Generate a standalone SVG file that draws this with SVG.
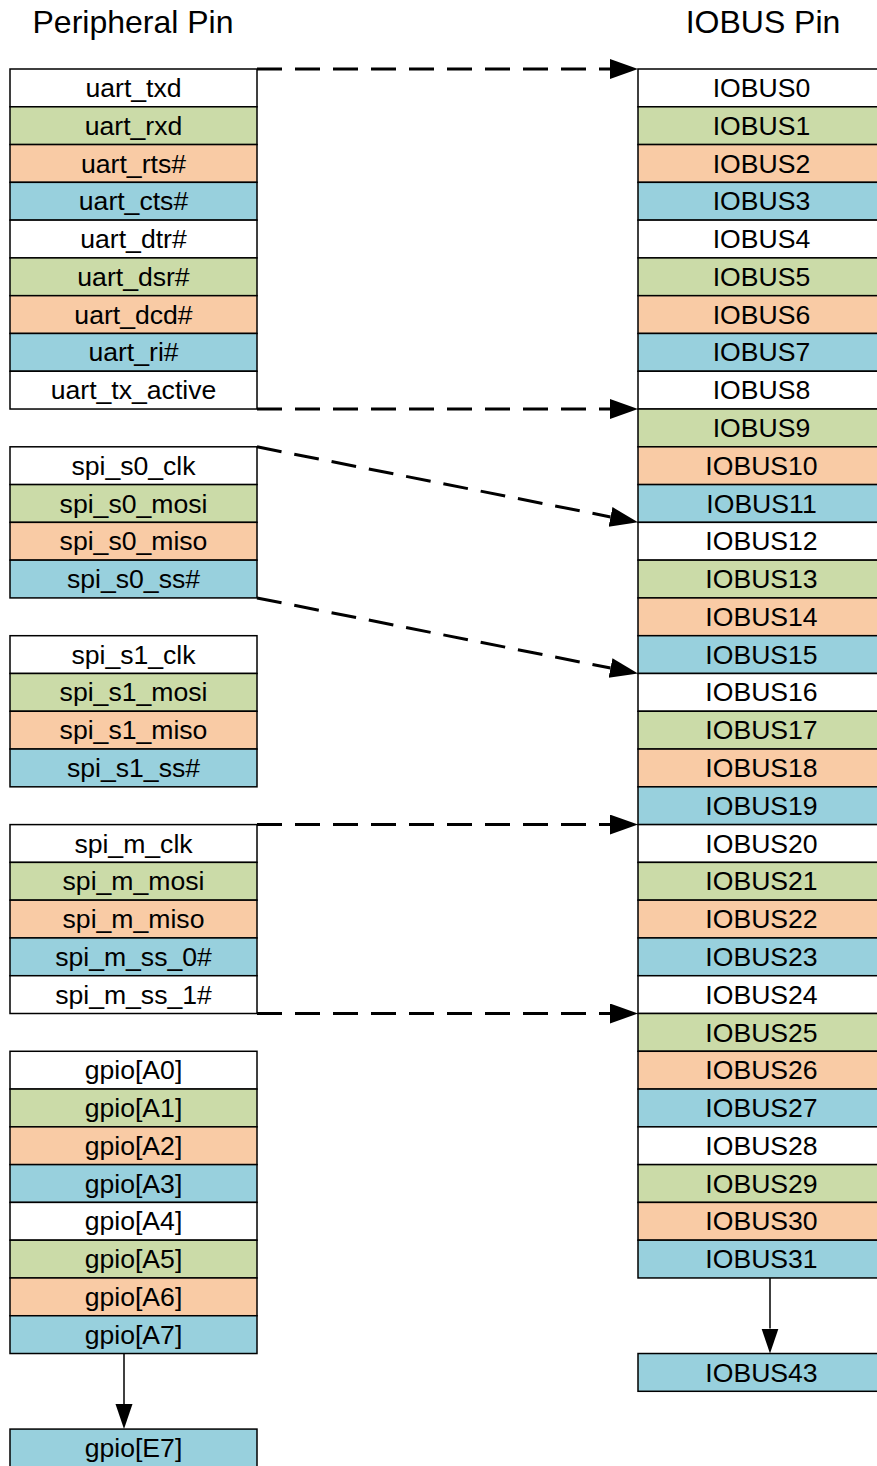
<svg xmlns="http://www.w3.org/2000/svg" width="877" height="1466" viewBox="0 0 877 1466">
<style>
.c{stroke:#000;stroke-width:1.5}
.w{fill:#ffffff}.g{fill:#cbdba8}.o{fill:#f9cba5}.b{fill:#98d0dd}
text{font-family:"Liberation Sans",Arial,sans-serif;fill:#000;text-anchor:middle}
.t{font-size:26.6px}
.h{font-size:32px}
.d{stroke:#000;stroke-width:3;stroke-dasharray:25 13;fill:none}
.s{stroke:#000;stroke-width:1.5;fill:none}
</style>
<defs>
<marker id="ah" markerUnits="userSpaceOnUse" markerWidth="30" markerHeight="22" refX="0" refY="10" orient="auto"><path d="M0,0 L28,10 L0,20 z" fill="#000"/></marker>
<marker id="as" markerUnits="userSpaceOnUse" markerWidth="27" markerHeight="19" refX="0" refY="8.5" orient="auto"><path d="M0,0 L25,8.5 L0,17 z" fill="#000"/></marker>
</defs>
<rect width="877" height="1466" fill="#fff"/>
<text class="h" x="133" y="33">Peripheral Pin</text>
<text class="h" x="763" y="33">IOBUS Pin</text>

<g id="uart">
<rect class="c w" x="10" y="69" width="247" height="37.78"/><text class="t" x="133.5" y="97">uart_txd</text>
<rect class="c g" x="10" y="106.78" width="247" height="37.78"/><text class="t" x="133.5" y="134.78">uart_rxd</text>
<rect class="c o" x="10" y="144.56" width="247" height="37.78"/><text class="t" x="133.5" y="172.56">uart_rts#</text>
<rect class="c b" x="10" y="182.34" width="247" height="37.78"/><text class="t" x="133.5" y="210.34">uart_cts#</text>
<rect class="c w" x="10" y="220.12" width="247" height="37.78"/><text class="t" x="133.5" y="248.12">uart_dtr#</text>
<rect class="c g" x="10" y="257.9" width="247" height="37.78"/><text class="t" x="133.5" y="285.9">uart_dsr#</text>
<rect class="c o" x="10" y="295.68" width="247" height="37.78"/><text class="t" x="133.5" y="323.68">uart_dcd#</text>
<rect class="c b" x="10" y="333.46" width="247" height="37.78"/><text class="t" x="133.5" y="361.46">uart_ri#</text>
<rect class="c w" x="10" y="371.24" width="247" height="37.78"/><text class="t" x="133.5" y="399.24">uart_tx_active</text>
</g>

<g id="spi_s0">
<rect class="c w" x="10" y="446.8" width="247" height="37.78"/><text class="t" x="133.5" y="474.8">spi_s0_clk</text>
<rect class="c g" x="10" y="484.58" width="247" height="37.78"/><text class="t" x="133.5" y="512.58">spi_s0_mosi</text>
<rect class="c o" x="10" y="522.36" width="247" height="37.78"/><text class="t" x="133.5" y="550.36">spi_s0_miso</text>
<rect class="c b" x="10" y="560.14" width="247" height="37.78"/><text class="t" x="133.5" y="588.14">spi_s0_ss#</text>
</g>

<g id="spi_s1">
<rect class="c w" x="10" y="635.7" width="247" height="37.78"/><text class="t" x="133.5" y="663.7">spi_s1_clk</text>
<rect class="c g" x="10" y="673.48" width="247" height="37.78"/><text class="t" x="133.5" y="701.48">spi_s1_mosi</text>
<rect class="c o" x="10" y="711.26" width="247" height="37.78"/><text class="t" x="133.5" y="739.26">spi_s1_miso</text>
<rect class="c b" x="10" y="749.04" width="247" height="37.78"/><text class="t" x="133.5" y="777.04">spi_s1_ss#</text>
</g>

<g id="spi_m">
<rect class="c w" x="10" y="824.6" width="247" height="37.78"/><text class="t" x="133.5" y="852.6">spi_m_clk</text>
<rect class="c g" x="10" y="862.38" width="247" height="37.78"/><text class="t" x="133.5" y="890.38">spi_m_mosi</text>
<rect class="c o" x="10" y="900.16" width="247" height="37.78"/><text class="t" x="133.5" y="928.16">spi_m_miso</text>
<rect class="c b" x="10" y="937.94" width="247" height="37.78"/><text class="t" x="133.5" y="965.94">spi_m_ss_0#</text>
<rect class="c w" x="10" y="975.72" width="247" height="37.78"/><text class="t" x="133.5" y="1003.72">spi_m_ss_1#</text>
</g>

<g id="gpio">
<rect class="c w" x="10" y="1051.28" width="247" height="37.78"/><text class="t" x="133.5" y="1079.28">gpio[A0]</text>
<rect class="c g" x="10" y="1089.06" width="247" height="37.78"/><text class="t" x="133.5" y="1117.06">gpio[A1]</text>
<rect class="c o" x="10" y="1126.84" width="247" height="37.78"/><text class="t" x="133.5" y="1154.84">gpio[A2]</text>
<rect class="c b" x="10" y="1164.62" width="247" height="37.78"/><text class="t" x="133.5" y="1192.62">gpio[A3]</text>
<rect class="c w" x="10" y="1202.4" width="247" height="37.78"/><text class="t" x="133.5" y="1230.4">gpio[A4]</text>
<rect class="c g" x="10" y="1240.18" width="247" height="37.78"/><text class="t" x="133.5" y="1268.18">gpio[A5]</text>
<rect class="c o" x="10" y="1277.96" width="247" height="37.78"/><text class="t" x="133.5" y="1305.96">gpio[A6]</text>
<rect class="c b" x="10" y="1315.74" width="247" height="37.78"/><text class="t" x="133.5" y="1343.74">gpio[A7]</text>
</g>

<g id="gpio_e7">
<rect class="c b" x="10" y="1429.08" width="247" height="37.78"/><text class="t" x="133.5" y="1457.08">gpio[E7]</text>
</g>

<g id="iobus">
<rect class="c w" x="638" y="69" width="247" height="37.78"/><text class="t" x="761.5" y="97">IOBUS0</text>
<rect class="c g" x="638" y="106.78" width="247" height="37.78"/><text class="t" x="761.5" y="134.78">IOBUS1</text>
<rect class="c o" x="638" y="144.56" width="247" height="37.78"/><text class="t" x="761.5" y="172.56">IOBUS2</text>
<rect class="c b" x="638" y="182.34" width="247" height="37.78"/><text class="t" x="761.5" y="210.34">IOBUS3</text>
<rect class="c w" x="638" y="220.12" width="247" height="37.78"/><text class="t" x="761.5" y="248.12">IOBUS4</text>
<rect class="c g" x="638" y="257.9" width="247" height="37.78"/><text class="t" x="761.5" y="285.9">IOBUS5</text>
<rect class="c o" x="638" y="295.68" width="247" height="37.78"/><text class="t" x="761.5" y="323.68">IOBUS6</text>
<rect class="c b" x="638" y="333.46" width="247" height="37.78"/><text class="t" x="761.5" y="361.46">IOBUS7</text>
<rect class="c w" x="638" y="371.24" width="247" height="37.78"/><text class="t" x="761.5" y="399.24">IOBUS8</text>
<rect class="c g" x="638" y="409.02" width="247" height="37.78"/><text class="t" x="761.5" y="437.02">IOBUS9</text>
<rect class="c o" x="638" y="446.8" width="247" height="37.78"/><text class="t" x="761.5" y="474.8">IOBUS10</text>
<rect class="c b" x="638" y="484.58" width="247" height="37.78"/><text class="t" x="761.5" y="512.58">IOBUS11</text>
<rect class="c w" x="638" y="522.36" width="247" height="37.78"/><text class="t" x="761.5" y="550.36">IOBUS12</text>
<rect class="c g" x="638" y="560.14" width="247" height="37.78"/><text class="t" x="761.5" y="588.14">IOBUS13</text>
<rect class="c o" x="638" y="597.92" width="247" height="37.78"/><text class="t" x="761.5" y="625.92">IOBUS14</text>
<rect class="c b" x="638" y="635.7" width="247" height="37.78"/><text class="t" x="761.5" y="663.7">IOBUS15</text>
<rect class="c w" x="638" y="673.48" width="247" height="37.78"/><text class="t" x="761.5" y="701.48">IOBUS16</text>
<rect class="c g" x="638" y="711.26" width="247" height="37.78"/><text class="t" x="761.5" y="739.26">IOBUS17</text>
<rect class="c o" x="638" y="749.04" width="247" height="37.78"/><text class="t" x="761.5" y="777.04">IOBUS18</text>
<rect class="c b" x="638" y="786.82" width="247" height="37.78"/><text class="t" x="761.5" y="814.82">IOBUS19</text>
<rect class="c w" x="638" y="824.6" width="247" height="37.78"/><text class="t" x="761.5" y="852.6">IOBUS20</text>
<rect class="c g" x="638" y="862.38" width="247" height="37.78"/><text class="t" x="761.5" y="890.38">IOBUS21</text>
<rect class="c o" x="638" y="900.16" width="247" height="37.78"/><text class="t" x="761.5" y="928.16">IOBUS22</text>
<rect class="c b" x="638" y="937.94" width="247" height="37.78"/><text class="t" x="761.5" y="965.94">IOBUS23</text>
<rect class="c w" x="638" y="975.72" width="247" height="37.78"/><text class="t" x="761.5" y="1003.72">IOBUS24</text>
<rect class="c g" x="638" y="1013.5" width="247" height="37.78"/><text class="t" x="761.5" y="1041.5">IOBUS25</text>
<rect class="c o" x="638" y="1051.28" width="247" height="37.78"/><text class="t" x="761.5" y="1079.28">IOBUS26</text>
<rect class="c b" x="638" y="1089.06" width="247" height="37.78"/><text class="t" x="761.5" y="1117.06">IOBUS27</text>
<rect class="c w" x="638" y="1126.84" width="247" height="37.78"/><text class="t" x="761.5" y="1154.84">IOBUS28</text>
<rect class="c g" x="638" y="1164.62" width="247" height="37.78"/><text class="t" x="761.5" y="1192.62">IOBUS29</text>
<rect class="c o" x="638" y="1202.4" width="247" height="37.78"/><text class="t" x="761.5" y="1230.4">IOBUS30</text>
<rect class="c b" x="638" y="1240.18" width="247" height="37.78"/><text class="t" x="761.5" y="1268.18">IOBUS31</text>
</g>

<g id="iobus43">
<rect class="c b" x="638" y="1353.52" width="247" height="37.78"/><text class="t" x="761.5" y="1381.52">IOBUS43</text>
</g>

<g id="connectors">
<path class="d" d="M257,69 L610,69" marker-end="url(#ah)"/>
<path class="d" d="M257,409.02 L610,409.02" marker-end="url(#ah)"/>
<path class="d" d="M257,446.8 L610.53,516.91" marker-end="url(#ah)"/>
<path class="d" d="M257,597.92 L610.53,668.03" marker-end="url(#ah)"/>
<path class="d" d="M257,824.6 L610,824.6" marker-end="url(#ah)"/>
<path class="d" d="M257,1013.5 L610,1013.5" marker-end="url(#ah)"/>
<path class="s" d="M124,1353.52 L124,1404.08" marker-end="url(#as)"/>
<path class="s" d="M770,1277.96 L770,1328.52" marker-end="url(#as)"/>
</g>
</svg>
